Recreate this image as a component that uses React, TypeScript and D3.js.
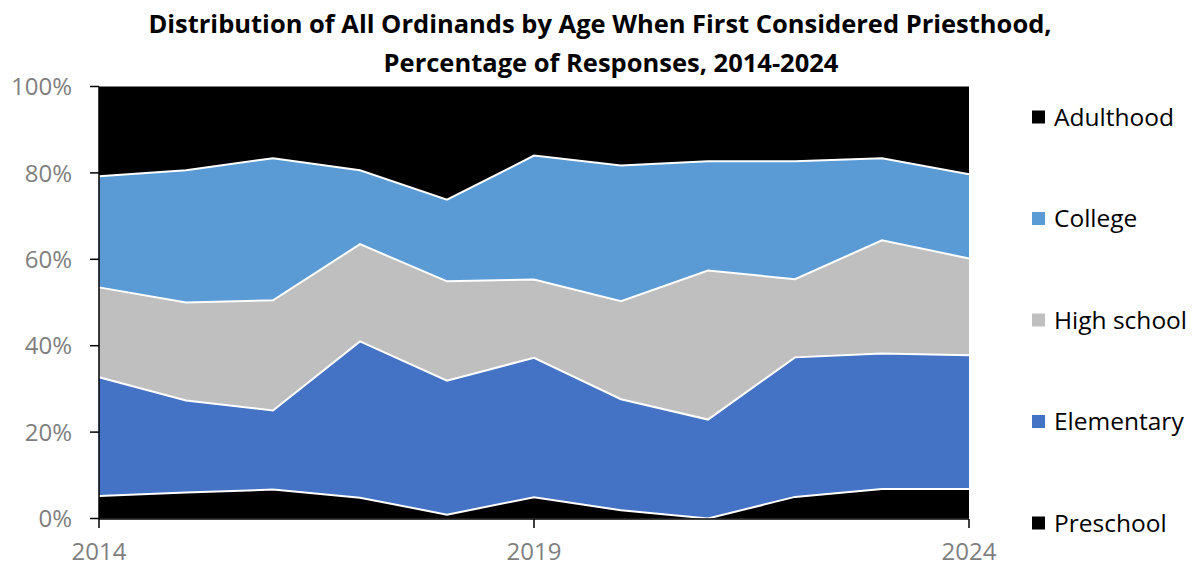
import React from "react";
import * as d3 from "d3";

const years = [2014, 2015, 2016, 2017, 2018, 2019, 2020, 2021, 2022, 2023, 2024];
const preschool = [5.2, 6.0, 6.7, 4.8, 0.9, 4.9, 1.9, 0.0, 5.0, 6.8, 6.8];
const elementary = [27.5, 21.3, 18.3, 36.2, 31.0, 32.3, 25.7, 22.9, 32.3, 31.4, 31.0];
const highSchool = [20.8, 22.7, 25.5, 22.5, 23.0, 18.1, 22.7, 34.5, 18.1, 26.2, 22.4];
const college = [25.7, 30.6, 32.9, 17.1, 18.9, 28.7, 31.4, 25.3, 27.3, 19.0, 19.5];
const adulthood = [20.8, 19.4, 16.6, 19.4, 26.2, 16.0, 18.3, 17.3, 17.3, 16.6, 20.3];

const seriesNames = ["Preschool", "Elementary", "High school", "College", "Adulthood"];
const seriesValues = [preschool, elementary, highSchool, college, adulthood];
const colors = ["#000000", "#4472C4", "#BFBFBF", "#5B9BD5", "#000000"];
const yTicks = [0, 20, 40, 60, 80, 100];
const xTicks = [2014, 2019, 2024];
const titleLines = [
  "Distribution of All Ordinands by Age When First Considered Priesthood,",
  "Percentage of Responses, 2014-2024",
];
const titleCenters = [600, 611];

const W = 1194;
const H = 568;
const FONT = "'Open Sans', sans-serif";

export default function App() {
  const x = d3.scaleLinear().domain([2014, 2024]).range([99, 969]);
  const y = d3.scaleLinear().domain([0, 100]).range([518.5, 86.5]);

  const rows = years.map((yr, i) => {
    const r: any = { year: yr };
    seriesNames.forEach((n, k) => (r[n] = seriesValues[k][i]));
    return r;
  });
  const stacked = d3.stack<any>().keys(seriesNames)(rows);

  const area = d3
    .area<any>()
    .x((d) => x(d.data.year))
    .y0((d) => y(d[0]))
    .y1((d) => y(d[1]));
  const topLine = d3
    .line<any>()
    .x((d) => x(d.data.year))
    .y((d) => y(d[1]));

  const legendOrder = [...seriesNames].reverse();
  const legendColors = [...colors].reverse();

  return (
    <svg
      width={W}
      height={H}
      style={{ position: "absolute", left: 0, top: 0, display: "block" }}
    >
      <rect width={W} height={H} fill="#fff" />
      {titleLines.map((t, i) => (
        <text
          key={i}
          x={titleCenters[i]}
          y={33 + i * 39}
          textAnchor="middle"
          fontFamily={FONT}
          fontWeight={700}
          fontSize={25.5}
          fill="#000"
        >
          {t}
        </text>
      ))}

      {stacked.map((s, k) => (
        <path key={s.key} d={area(s) || ""} fill={colors[k]} />
      ))}
      {stacked.slice(0, 4).map((s) => (
        <path
          key={"l" + s.key}
          d={topLine(s) || ""}
          fill="none"
          stroke="#fff"
          strokeWidth={2}
          strokeLinejoin="miter"
        />
      ))}

      {/* y axis */}
      <line x1={99} x2={99} y1={y(100)} y2={y(0)} stroke="#000" strokeWidth={1.5} />
      {yTicks.map((t) => (
        <g key={t}>
          <line x1={90} x2={99} y1={y(t)} y2={y(t)} stroke="#000" strokeWidth={1.5} />
          <text
            x={72}
            y={y(t)}
            dy="0.36em"
            textAnchor="end"
            fontFamily={FONT}
            fontSize={24}
            fill="#7F7F7F"
          >
            {t}%
          </text>
        </g>
      ))}

      {/* x axis */}
      <line x1={99} x2={969} y1={519} y2={519} stroke="#000" strokeWidth={1.5} />
      {xTicks.map((t) => (
        <g key={t}>
          <line x1={x(t)} x2={x(t)} y1={519} y2={528} stroke="#000" strokeWidth={1.5} />
          <text
            x={x(t)}
            y={560}
            textAnchor="middle"
            fontFamily={FONT}
            fontSize={24}
            fill="#7F7F7F"
          >
            {t}
          </text>
        </g>
      ))}

      {/* legend */}
      {legendOrder.map((n, i) => {
        const cy = 117 + i * 101.5;
        return (
          <g key={n}>
            <rect x={1032} y={cy - 6.5} width={13} height={13} fill={legendColors[i]} />
            <text
              x={1054}
              y={cy}
              dy="0.36em"
              fontFamily={FONT}
              fontSize={24.5}
              fill="#000"
            >
              {n}
            </text>
          </g>
        );
      })}
    </svg>
  );
}
